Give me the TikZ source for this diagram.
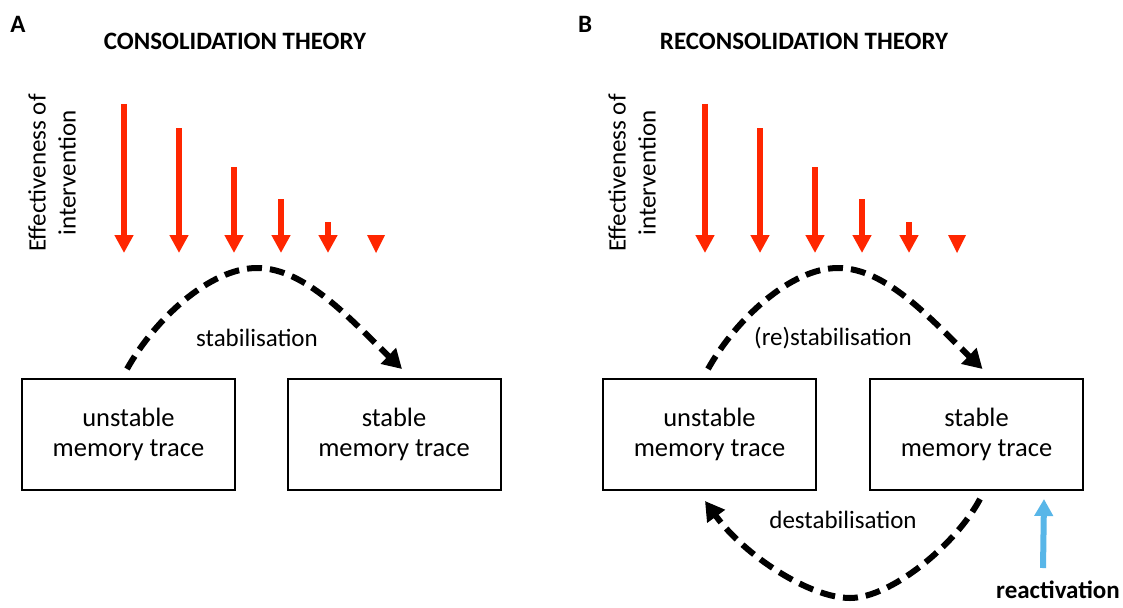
\documentclass[tikz,border=0pt]{standalone}
\usepackage{fontspec}
\setmainfont{Carlito}
\usetikzlibrary{arrows.meta}
\definecolor{ired}{RGB}{255,38,0}
\definecolor{iblue}{RGB}{88,182,232}
\begin{document}
\begin{tikzpicture}[x=1pt,y=-1pt,
  membox/.style={draw,line width=2pt,minimum width=213pt,minimum height=111pt,align=center,inner sep=0pt,font=\fontsize{26.5}{30}\selectfont},
  flow/.style={line width=6pt,dash pattern=on 15pt off 8pt,-{Triangle[length=19pt,width=21pt]}},
  lbl/.style={font=\fontsize{25}{30}\selectfont},
  ttl/.style={font=\bfseries\fontsize{25}{30}\selectfont},
  panel/.style={font=\bfseries\fontsize{25}{30}\selectfont},
  efftxt/.style={rotate=90,align=center,font=\fontsize{25}{30}\selectfont},
  redarrow/.style={ired,line width=6.5pt,-{Triangle[length=18pt,width=18pt]}},
  bluearrow/.style={iblue,line width=6pt,-{Triangle[length=17pt,width=18pt]}}
]
\fill[white] (0,0) rectangle (1123,607);
\useasboundingbox (0,0) rectangle (1123,607);

% ---------------- Panel A ----------------
\node[panel] (pA) at (18,24) {A};
\node[ttl] (tA) at (235,41) {CONSOLIDATION THEORY};
\node[efftxt] (eA) at (52,173) {Effectiveness of\\intervention};
\foreach \x/\t in {124/104,179/128,234/167,281/199,328/222}
  \draw[redarrow] (\x,\t) -- (\x,253);
\fill[ired] (367,235) -- (385,235) -- (376,253) -- cycle;

\node[membox] (uA) at (128.5,434.5) {unstable\\memory trace};
\node[membox] (sA) at (394,434.5) {stable\\memory trace};
\coordinate (a0) at ([xshift=-1.5pt,yshift=9pt]uA.north);
\coordinate (a1) at ([xshift=8pt,yshift=9pt]sA.north);
\coordinate (apk) at (257,268);
\draw[flow] (a0) .. controls +(28,-50) and +(-47,0) .. (apk)
                 .. controls +(48,0) and +(-52,-50) .. (a1);
\node[lbl] (lA) at (257,338) {stabilisation};

% ---------------- Panel B ----------------
\node[panel] (pB) at (585,24) {B};
\node[ttl] (tB) at (804,41) {RECONSOLIDATION THEORY};
\node[efftxt] (eB) at (632,173) {Effectiveness of\\intervention};
\foreach \x/\t in {705/104,760/128,815/167,862/199,909/222}
  \draw[redarrow] (\x,\t) -- (\x,253);
\fill[ired] (948,235) -- (966,235) -- (957,253) -- cycle;

\node[membox] (uB) at (709.5,434.5) {unstable\\memory trace};
\node[membox] (sB) at (976.5,434.5) {stable\\memory trace};
\coordinate (b0) at ([xshift=-1.5pt,yshift=9pt]uB.north);
\coordinate (b1) at ([xshift=6pt,yshift=9pt]sB.north);
\coordinate (bpk) at (838,268);
\draw[flow] (b0) .. controls +(28,-50) and +(-47,0) .. (bpk)
                 .. controls +(48,0) and +(-52,-50) .. (b1);
\node[lbl] (lB) at (833,338) {(re)stabilisation};

\coordinate (b2) at ([xshift=3.5pt,yshift=-8pt]sB.south);
\coordinate (b3) at ([xshift=-4.5pt,yshift=-10pt]uB.south);
\coordinate (bbt) at (850,598);
\draw[flow] (b2) .. controls +(-25,47) and +(40,0) .. (bbt)
                 .. controls +(-40,0) and +(40,55) .. (b3);
\node[lbl] (dB) at (843,520) {destabilisation};

\node[font=\bfseries\fontsize{25}{30}\selectfont] (rB) at (1058,590) {reactivation};
\coordinate (r0) at (1043,568);
\coordinate (r1) at ([xshift=-40pt,yshift=-8pt]sB.south east);
\draw[bluearrow] (r0) -- (r1);
\end{tikzpicture}
\end{document}
